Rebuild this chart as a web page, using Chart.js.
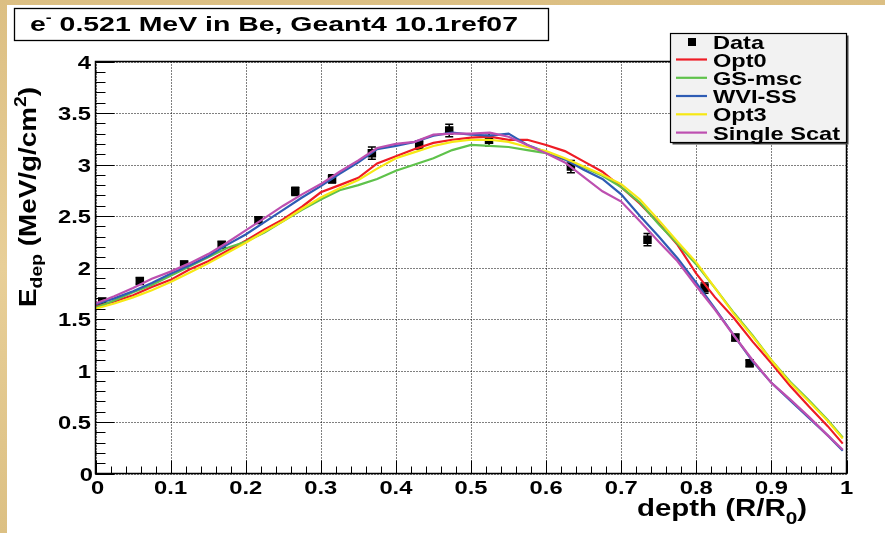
<!DOCTYPE html>
<html>
<head>
<meta charset="utf-8">
<script src="https://cdn.jsdelivr.net/npm/chart.js@4.4.1/dist/chart.umd.min.js"></script>
<style>
  html, body { margin: 0; padding: 0; background: #e2c68c; }
  canvas { display: block; }
</style>
</head>
<body>
<canvas id="c" width="885" height="533" style="width:885px;height:533px"></canvas>
<script>
// Depth grid (R/R0) shared by the simulated curves
const depth = [0, 0.025, 0.05, 0.075, 0.1, 0.125, 0.15, 0.175, 0.2, 0.225,
  0.25, 0.275, 0.3, 0.325, 0.35, 0.375, 0.4, 0.425, 0.45, 0.475,
  0.5, 0.525, 0.55, 0.575, 0.6, 0.625, 0.65, 0.675, 0.7, 0.725,
  0.75, 0.775, 0.8, 0.825, 0.85, 0.875, 0.9, 0.925, 0.95, 0.975, 0.995];

// Energy deposition (MeV/g/cm2) for each physics list
const opt0 = [1.62, 1.67, 1.73, 1.81, 1.88, 1.98, 2.06, 2.16, 2.26, 2.37,
  2.47, 2.59, 2.73, 2.80, 2.87, 3.01, 3.08, 3.15, 3.21, 3.24,
  3.26, 3.27, 3.24, 3.24, 3.19, 3.13, 3.03, 2.93, 2.78, 2.62,
  2.43, 2.22, 1.94, 1.71, 1.51, 1.28, 1.07, 0.85, 0.65, 0.46, 0.29];
const gsMsc = [1.61, 1.68, 1.76, 1.83, 1.92, 2.01, 2.10, 2.19, 2.25, 2.34,
  2.45, 2.56, 2.66, 2.75, 2.80, 2.86, 2.94, 3.00, 3.06, 3.14,
  3.19, 3.18, 3.17, 3.14, 3.11, 3.05, 2.97, 2.89, 2.78, 2.63,
  2.42, 2.23, 2.03, 1.80, 1.56, 1.34, 1.10, 0.89, 0.71, 0.52, 0.35];
const wviSs = [1.64, 1.70, 1.77, 1.85, 1.94, 2.02, 2.11, 2.22, 2.32, 2.44,
  2.56, 2.68, 2.79, 2.91, 3.02, 3.15, 3.18, 3.22, 3.28, 3.31,
  3.29, 3.28, 3.30, 3.19, 3.12, 3.05, 2.95, 2.86, 2.71, 2.50,
  2.30, 2.09, 1.85, 1.60, 1.34, 1.09, 0.88, 0.71, 0.54, 0.37, 0.22];
const opt3 = [1.60, 1.65, 1.71, 1.78, 1.86, 1.95, 2.04, 2.14, 2.24, 2.35,
  2.45, 2.57, 2.68, 2.77, 2.85, 2.96, 3.06, 3.12, 3.18, 3.22,
  3.24, 3.24, 3.22, 3.17, 3.13, 3.06, 2.98, 2.90, 2.81, 2.66,
  2.46, 2.25, 2.05, 1.80, 1.55, 1.33, 1.10, 0.88, 0.70, 0.51, 0.34];
const singleScat = [1.65, 1.72, 1.80, 1.89, 1.96, 2.04, 2.13, 2.24, 2.36, 2.48,
  2.60, 2.71, 2.81, 2.93, 3.04, 3.16, 3.20, 3.22, 3.29, 3.30,
  3.30, 3.31, 3.27, 3.19, 3.11, 3.02, 2.88, 2.74, 2.64, 2.45,
  2.25, 2.06, 1.82, 1.59, 1.34, 1.10, 0.88, 0.72, 0.55, 0.37, 0.23];

// Measured points with their errors
const dataDepth = [0.009, 0.059, 0.118, 0.168, 0.217, 0.266, 0.315, 0.368,
  0.431, 0.471, 0.524, 0.633, 0.735, 0.811, 0.852, 0.871];
const dataEdep = [1.67, 1.87, 2.03, 2.22, 2.46, 2.74, 2.86, 3.11,
  3.19, 3.33, 3.24, 2.98, 2.27, 1.80, 1.32, 1.07];
const dataErr = [0.03, 0.03, 0.03, 0.03, 0.03, 0.04, 0.04, 0.06,
  0.04, 0.06, 0.06, 0.06, 0.06, 0.05, 0.03, 0.03];

// Axis ticks and labels
const xTicks = [0, 0.1, 0.2, 0.3, 0.4, 0.5, 0.6, 0.7, 0.8, 0.9, 1];
const xTickLabels = ['0', '0.1', '0.2', '0.3', '0.4', '0.5', '0.6', '0.7', '0.8', '0.9', '1'];
const yTicks = [0, 0.5, 1, 1.5, 2, 2.5, 3, 3.5, 4];
const yTickLabels = ['0', '0.5', '1', '1.5', '2', '2.5', '3', '3.5', '4'];

const seriesNames = ['Data', 'Opt0', 'GS-msc', 'WVI-SS', 'Opt3', 'Single Scat'];
const seriesColors = ['#000000', '#ee1c25', '#5fc24b', '#2e5cb4', '#f6e814', '#bd4fb0'];

const FONT = '"Liberation Sans", Arial, Helvetica, sans-serif';

function pts(ys) { return depth.map((x, i) => ({ x: x, y: ys[i] })); }

function curve(label, ys, color, order) {
  return {
    label: label, data: pts(ys), showLine: true, borderColor: color,
    backgroundColor: color, borderWidth: 2.2, pointRadius: 0, tension: 0, order: order
  };
}

// Text drawn stretched along its baseline (wide bold Helvetica look)
function text(ctx, s, x, y, size, sx, align, base) {
  ctx.save();
  ctx.font = 'bold ' + size + 'px ' + FONT;
  ctx.translate(x, y);
  ctx.scale(sx, 1);
  ctx.textAlign = align || 'left';
  ctx.textBaseline = base || 'alphabetic';
  ctx.fillStyle = '#000';
  ctx.fillText(s, 0, 0);
  ctx.restore();
}
function width(ctx, s, size) {
  ctx.save();
  ctx.font = 'bold ' + size + 'px ' + FONT;
  const w = ctx.measureText(s).width;
  ctx.restore();
  return w;
}

// Runs of text with sub/superscripts: [string, size, yOffset]
function runs(ctx, parts, x, y, targetW) {
  let nat = 0;
  parts.forEach(p => { nat += width(ctx, p[0], p[1]); });
  const sx = targetW / nat;
  let cx = x;
  parts.forEach(p => {
    text(ctx, p[0], cx, y + p[2], p[1], sx, 'left');
    cx += width(ctx, p[0], p[1]) * sx;
  });
}

const STRETCH = 1.25;

const rootStyle = {
  id: 'rootStyle',
  beforeDraw(chart) {
    const ctx = chart.ctx;
    ctx.save();
    const g = ctx.createLinearGradient(0, 0, 0, chart.height);
    g.addColorStop(0, '#dcbf83'); g.addColorStop(0.5, '#e8cf98'); g.addColorStop(1, '#dcc083');
    ctx.fillStyle = g;
    ctx.fillRect(0, 0, chart.width, chart.height);
    ctx.fillStyle = '#ffffff';
    ctx.fillRect(7, 5, chart.width - 7, chart.height - 5);
    ctx.restore();
  },
  beforeDatasetsDraw(chart) {
    const ctx = chart.ctx, a = chart.chartArea;
    const xs = chart.scales.x, ys = chart.scales.y;
    ctx.save();
    // dotted grid at major ticks
    ctx.strokeStyle = '#000';
    ctx.lineWidth = 1;
    ctx.setLineDash([1, 2]);
    xTicks.forEach(v => {
      const px = Math.round(xs.getPixelForValue(v)) + 0.5;
      ctx.beginPath(); ctx.moveTo(px, a.top); ctx.lineTo(px, a.bottom); ctx.stroke();
    });
    yTicks.forEach(v => {
      const py = Math.round(ys.getPixelForValue(v)) + 0.5;
      ctx.beginPath(); ctx.moveTo(a.left, py); ctx.lineTo(a.right, py); ctx.stroke();
    });
    ctx.setLineDash([]);
    // error bars of the measured points
    ctx.lineWidth = 1.5;
    dataDepth.forEach((d, i) => {
      const px = xs.getPixelForValue(d);
      const p1 = ys.getPixelForValue(dataEdep[i] + dataErr[i]);
      const p2 = ys.getPixelForValue(dataEdep[i] - dataErr[i]);
      ctx.beginPath();
      ctx.moveTo(px, p1); ctx.lineTo(px, p2);
      ctx.moveTo(px - 4, p1); ctx.lineTo(px + 4, p1);
      ctx.moveTo(px - 4, p2); ctx.lineTo(px + 4, p2);
      ctx.stroke();
    });
    ctx.restore();
  },
  afterDatasetsDraw(chart) {
    const ctx = chart.ctx, a = chart.chartArea;
    const xs = chart.scales.x, ys = chart.scales.y;
    ctx.save();
    ctx.strokeStyle = '#000';
    ctx.lineWidth = 1;
    // minor and major ticks on the x axis
    for (let k = 0; k <= 50; k++) {
      const px = Math.round(xs.getPixelForValue(k * 0.02)) + 0.5;
      const len = (k % 5 === 0) ? 13 : 7;
      ctx.beginPath(); ctx.moveTo(px, a.bottom); ctx.lineTo(px, a.bottom - len); ctx.stroke();
    }
    // minor and major ticks on the y axis
    for (let k = 0; k <= 40; k++) {
      const py = Math.round(ys.getPixelForValue(k * 0.1)) + 0.5;
      const len = (k % 5 === 0) ? 19 : 10;
      ctx.beginPath(); ctx.moveTo(a.left, py); ctx.lineTo(a.left + len, py); ctx.stroke();
    }
    // frame
    ctx.lineWidth = 1.5;
    ctx.strokeRect(a.left, a.top, a.right - a.left, a.bottom - a.top);
    ctx.restore();

    // tick labels
    xTicks.forEach((v, i) => {
      const px = xs.getPixelForValue(v);
      const off = (i === 0) ? 2 : 0;
      text(ctx, xTickLabels[i], px + off, 494, 19, STRETCH, 'center');
    });
    yTicks.forEach((v, i) => {
      const py = ys.getPixelForValue(v);
      const shift = (i === 0) ? 2 : 0;
      text(ctx, yTickLabels[i], 91 + shift, py + 7, 19, STRETCH, 'right');
    });
  },
  afterDraw(chart) {
    const ctx = chart.ctx;
    // title box
    ctx.save();
    ctx.fillStyle = '#fff';
    ctx.fillRect(14.5, 8.5, 534, 32);
    ctx.strokeStyle = '#000';
    ctx.lineWidth = 1.3;
    ctx.strokeRect(14.5, 8.5, 534, 32);
    ctx.restore();
    runs(ctx, [['e', 21, 0], ['-', 13, -9], [' 0.521 MeV in Be, Geant4 10.1ref07', 21, 0]], 30, 31, 488);

    // x axis title
    runs(ctx, [['depth (R/R', 24, 0], ['0', 17, 8], [')', 24, 0]], 637, 516, 170);

    // y axis title (rotated)
    ctx.save();
    ctx.translate(36, 307);
    ctx.rotate(-Math.PI / 2);
    runs(ctx, [['E', 23, 0], ['dep', 16, 6], [' (MeV/g/cm', 23, 0], ['2', 16, -10], [')', 23, 0]], 0, 0, 220);
    ctx.restore();

    // legend
    ctx.save();
    const lx = 670.5, ly = 33.5, lw = 176, lh = 109;
    ctx.fillStyle = '#444';
    ctx.fillRect(lx + 2, ly + 2, lw, lh);
    ctx.fillStyle = '#f2f2f2';
    ctx.fillRect(lx, ly, lw, lh);
    ctx.strokeStyle = '#000';
    ctx.lineWidth = 1.2;
    ctx.strokeRect(lx, ly, lw, lh);
    const rowY = [42, 59.5, 77.8, 96, 114.3, 132.6];
    seriesNames.forEach((name, i) => {
      const y = rowY[i];
      if (i === 0) {
        ctx.fillStyle = '#000';
        ctx.fillRect(688, y - 4, 8, 8);
      } else {
        ctx.strokeStyle = seriesColors[i];
        ctx.lineWidth = 2.2;
        ctx.beginPath(); ctx.moveTo(676, y); ctx.lineTo(707, y); ctx.stroke();
      }
      text(ctx, name, 713, y + 7, 19, 1.24, 'left');
    });
    ctx.restore();
  }
};

new Chart(document.getElementById('c'), {
  type: 'scatter',
  data: {
    datasets: [
      curve('Single Scat', singleScat, seriesColors[5], 1),
      curve('Opt3', opt3, seriesColors[4], 2),
      curve('WVI-SS', wviSs, seriesColors[3], 3),
      curve('GS-msc', gsMsc, seriesColors[2], 4),
      curve('Opt0', opt0, seriesColors[1], 5),
      {
        label: 'Data',
        data: dataDepth.map((x, i) => ({ x: x, y: dataEdep[i] })),
        showLine: false, pointStyle: 'rect', pointRadius: 6, pointBorderWidth: 0,
        backgroundColor: '#000', borderColor: '#000', order: 6
      }
    ]
  },
  options: {
    responsive: false,
    animation: false,
    devicePixelRatio: 1,
    layout: { padding: { left: 95.5, right: 38.5, top: 61.5, bottom: 59.5 } },
    plugins: { legend: { display: false }, tooltip: { enabled: false }, title: { display: false } },
    scales: {
      x: { type: 'linear', min: 0, max: 1, display: false },
      y: { type: 'linear', min: 0, max: 4, display: false }
    }
  },
  plugins: [rootStyle]
});
</script>
</body>
</html>
